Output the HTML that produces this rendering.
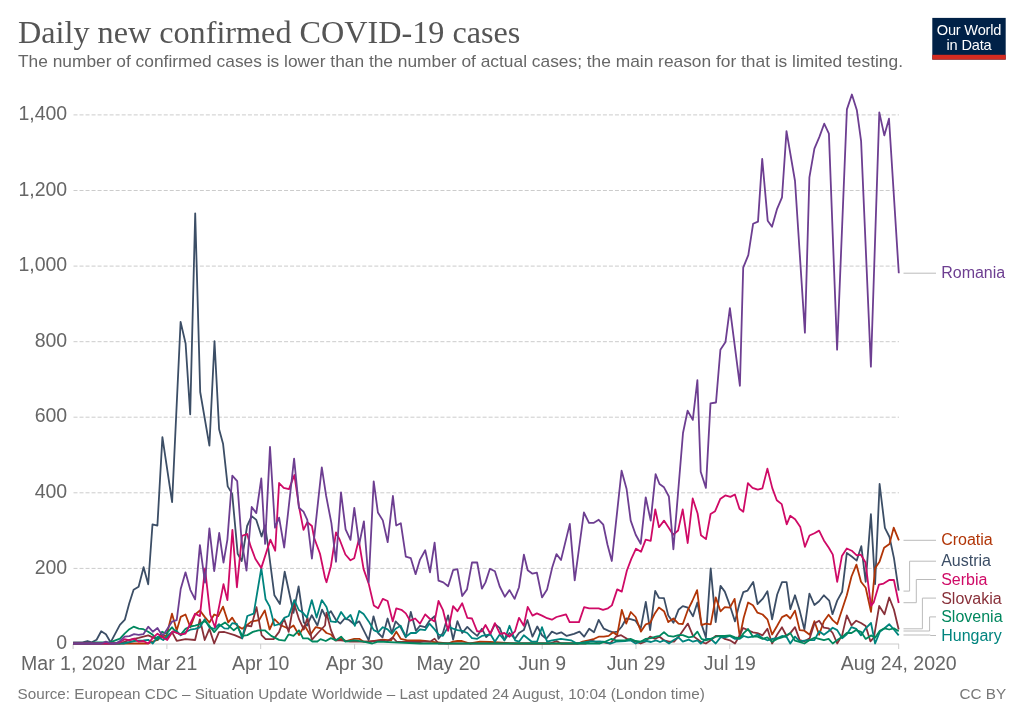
<!DOCTYPE html>
<html><head><meta charset="utf-8"><style>
html,body{margin:0;padding:0;background:#fff;}
body{width:1024px;height:722px;overflow:hidden;position:relative;font-family:"Liberation Sans",Arial,sans-serif;}
svg{position:absolute;left:0;top:0;will-change:transform;}
</style></head><body>
<svg width="1024" height="722" viewBox="0 0 1024 722">
<rect width="1024" height="722" fill="#fff"/>
<text x="18" y="42.9" font-family="Liberation Serif, serif" font-size="32.2" fill="#555">Daily new confirmed COVID-19 cases</text>
<text x="18" y="66.9" font-family="Liberation Sans, sans-serif" font-size="17.35" fill="#666">The number of confirmed cases is lower than the number of actual cases; the main reason for that is limited testing.</text>
<g>
<rect x="932.3" y="17.9" width="73.4" height="41.7" fill="#002147"/>
<rect x="932.3" y="54.8" width="73.4" height="4.8" fill="#D42B21"/>
<text x="969" y="34.5" text-anchor="middle" font-family="Liberation Sans, sans-serif" font-size="14.6" letter-spacing="-0.2" fill="#fff">Our World</text>
<text x="969" y="50.3" text-anchor="middle" font-family="Liberation Sans, sans-serif" font-size="14.6" letter-spacing="-0.2" fill="#fff">in Data</text>
</g>
<g stroke="#ccc" stroke-width="1" stroke-dasharray="4,2.016"><line x1="73.5" x2="899" y1="568.4" y2="568.4"/><line x1="73.5" x2="899" y1="492.8" y2="492.8"/><line x1="73.5" x2="899" y1="417.2" y2="417.2"/><line x1="73.5" x2="899" y1="341.7" y2="341.7"/><line x1="73.5" x2="899" y1="266.1" y2="266.1"/><line x1="73.5" x2="899" y1="190.5" y2="190.5"/><line x1="73.5" x2="899" y1="114.9" y2="114.9"/></g>
<g font-family="Liberation Sans, sans-serif" font-size="19.5" fill="#666" text-anchor="end"><text x="67.2" y="649.2">0</text><text x="67.2" y="573.6">200</text><text x="67.2" y="498.0">400</text><text x="67.2" y="422.4">600</text><text x="67.2" y="346.9">800</text><text x="67.2" y="271.3">1,000</text><text x="67.2" y="195.7">1,200</text><text x="67.2" y="120.1">1,400</text></g>
<line x1="73.5" x2="899" y1="644" y2="644" stroke="#ccc" stroke-width="1"/>
<g stroke="#ccc" stroke-width="1"><line x1="73.1" x2="73.1" y1="644" y2="649"/><line x1="166.9" x2="166.9" y1="644" y2="649"/><line x1="260.7" x2="260.7" y1="644" y2="649"/><line x1="354.6" x2="354.6" y1="644" y2="649"/><line x1="448.4" x2="448.4" y1="644" y2="649"/><line x1="542.2" x2="542.2" y1="644" y2="649"/><line x1="636.0" x2="636.0" y1="644" y2="649"/><line x1="729.8" x2="729.8" y1="644" y2="649"/><line x1="898.7" x2="898.7" y1="644" y2="649"/></g>
<g font-family="Liberation Sans, sans-serif" font-size="19.5" fill="#666" text-anchor="middle"><text x="73.1" y="669.8">Mar 1, 2020</text><text x="166.9" y="669.8">Mar 21</text><text x="260.7" y="669.8">Apr 10</text><text x="354.6" y="669.8">Apr 30</text><text x="448.4" y="669.8">May 20</text><text x="542.2" y="669.8">Jun 9</text><text x="636.0" y="669.8">Jun 29</text><text x="729.8" y="669.8">Jul 19</text><text x="898.7" y="669.8">Aug 24, 2020</text></g>
<g fill="none" stroke-width="1.8" stroke-linejoin="round" stroke-linecap="butt"><path d="M73.1,642.3 L82.5,642.3 L87.5,641.0 L91.8,642.3 L96.6,639.8 L101.2,631.3 L105.9,634.2 L110.6,642.3 L119.9,624.8 L124.9,619.6 L129.2,603.6 L133.6,589.7 L138.6,586.8 L143.6,567.2 L148.2,584.3 L152.5,524.3 L157.4,525.6 L162.4,437.1 L172.1,502.2 L180.6,321.9 L185.6,343.5 L190.2,414.3 L195.2,213.3 L200.2,392.0 L209.4,445.7 L214.5,341.2 L219.1,429.2 L223.1,444.1 L227.7,486.4 L232.2,493.9 L237.7,553.9 L241.7,561.0 L247.1,526.0 L251.7,516.1 L256.3,519.9 L261.6,536.5 L265.0,525.3 L268.0,545.9 L274.4,595.3 L279.9,604.0 L284.7,571.7 L293.5,612.8 L298.6,586.5 L303.8,622.4 L307.0,625.5 L311.8,615.2 L317.4,625.5 L322.1,609.6 L325.8,617.0 L330.9,611.2 L336.0,620.0 L340.3,623.6 L344.7,618.5 L349.1,620.0 L354.2,624.3 L359.2,621.4 L363.6,630.1 L368.7,640.3 L373.5,616.3 L378.1,633.0 L382.5,637.4 L387.6,618.5 L391.9,633.0 L395.6,621.4 L399.9,625.8 L405.8,637.4 L410.8,611.9 L415.9,630.8 L420.0,625.8 L425.2,627.2 L429.5,620.7 L434.6,616.3 L438.5,638.8 L442.9,633.0 L448.1,615.3 L453.1,639.6 L457.4,621.1 L462.2,633.0 L467.3,626.9 L472.0,631.6 L477.2,635.9 L481.9,628.7 L486.2,637.1 L490.6,633.0 L494.9,624.3 L499.7,627.9 L504.4,640.3 L509.5,633.0 L515.0,638.8 L519.0,633.0 L523.8,630.1 L527.4,620.0 L532.5,636.7 L537.3,626.5 L542.0,635.2 L546.3,638.8 L551.9,631.6 L556.5,633.8 L561.2,632.3 L566.7,635.9 L574.0,633.8 L579.5,631.6 L584.1,636.7 L589.2,628.7 L594.0,632.3 L598.7,619.9 L603.8,628.7 L608.7,630.8 L613.1,632.3 L617.4,631.6 L621.8,626.5 L626.2,618.5 L630.5,619.2 L635.6,620.7 L640.7,628.7 L645.8,601.8 L650.1,630.1 L655.2,590.9 L658.9,597.8 L664.0,598.1 L668.3,615.6 L673.4,622.8 L678.5,609.8 L682.8,606.1 L687.9,607.6 L693.0,616.3 L697.4,602.5 L701.5,624.4 L705.9,637.4 L710.7,568.4 L715.7,622.2 L720.5,585.8 L724.8,591.6 L729.9,605.4 L735.0,621.4 L739.4,604.0 L743.3,592.1 L747.6,590.6 L753.2,581.9 L757.5,604.0 L762.6,598.9 L767.4,591.2 L772.1,619.3 L777.2,594.5 L782.0,582.2 L786.6,582.2 L790.3,609.1 L795.0,595.3 L799.7,610.6 L804.4,629.5 L809.4,593.6 L814.4,605.0 L819.1,601.2 L823.9,595.3 L829.2,600.6 L832.5,614.2 L837.2,600.6 L842.1,591.8 L846.8,553.0 L851.7,556.5 L856.7,560.6 L861.3,546.2 L865.7,581.8 L870.9,514.2 L875.1,584.1 L879.6,484.0 L884.9,527.9 L889.5,537.0 L894.0,558.4 L898.7,590.6" stroke="#3C4E66"/><path d="M73.1,643.5 L148.2,643.5 L152.8,641.5 L157.5,640.0 L160.0,635.3 L166.4,636.0 L172.0,613.7 L176.7,630.5 L180.7,616.9 L185.5,614.5 L190.3,627.3 L195.1,614.5 L199.9,610.5 L204.7,616.9 L209.4,622.5 L214.2,614.5 L218.2,616.1 L223.0,606.6 L225.0,612.8 L228.2,622.4 L232.2,617.6 L236.9,625.5 L242.2,628.7 L246.5,625.5 L251.3,621.6 L259.2,620.0 L264.8,610.4 L269.6,629.5 L274.4,619.2 L279.9,624.7 L288.7,628.7 L293.5,625.5 L299.0,635.1 L304.6,625.5 L310.2,635.1 L315.8,627.1 L322.1,628.7 L326.5,633.0 L330.9,634.5 L336.0,640.3 L341.1,638.8 L346.2,641.0 L354.2,638.8 L359.2,638.8 L363.6,641.7 L369.4,641.7 L382.5,639.6 L391.2,640.3 L396.3,631.6 L400.7,638.8 L407.2,640.3 L413.0,640.3 L420.0,640.3 L425.0,641.0 L430.0,641.7 L448.0,643.5 L453.0,641.7 L457.4,641.0 L462.0,641.0 L470.0,643.5 L480.0,641.7 L490.0,642.0 L515.0,643.5 L578.0,643.5 L582.7,641.7 L588.5,640.3 L594.3,638.8 L598.7,636.7 L603.8,636.7 L608.7,635.9 L613.1,632.3 L617.2,635.2 L621.8,609.8 L626.2,623.6 L630.8,612.0 L635.6,617.0 L641.0,631.6 L645.8,624.3 L650.1,622.8 L654.5,614.1 L658.9,607.6 L664.0,611.2 L668.3,622.1 L673.4,618.5 L678.5,623.6 L682.8,624.0 L687.9,609.8 L692.3,601.0 L697.1,590.1 L701.5,625.1 L705.9,623.6 L710.7,624.4 L715.7,597.4 L720.5,611.3 L724.8,607.2 L729.9,607.6 L734.6,598.9 L739.8,636.7 L743.7,617.8 L748.1,602.5 L752.9,605.2 L757.5,612.7 L762.6,614.5 L767.4,619.3 L772.1,634.5 L777.2,625.8 L782.0,617.1 L786.6,614.9 L790.3,618.5 L795.0,610.6 L799.7,630.1 L804.4,630.7 L809.7,634.8 L814.4,621.2 L819.1,634.8 L823.9,621.2 L828.6,614.8 L832.7,620.1 L837.2,624.2 L842.1,609.5 L846.8,595.3 L851.5,576.5 L856.4,564.6 L861.0,581.8 L865.7,587.7 L871.0,611.8 L875.1,568.2 L879.6,561.4 L884.1,547.7 L889.5,543.9 L893.7,527.6 L898.9,540.4" stroke="#B13507"/><path d="M73.1,643.5 L119.9,643.5 L129.4,639.8 L138.7,637.9 L148.2,635.4 L152.8,637.3 L157.5,639.8 L162.1,636.7 L166.4,638.5 L172.0,632.1 L176.7,640.8 L185.5,639.2 L195.1,640.0 L199.9,619.3 L204.7,640.0 L209.4,628.9 L214.2,643.5 L219.0,632.1 L224.4,632.0 L234.6,635.1 L242.2,638.3 L246.5,625.5 L251.3,626.3 L256.5,607.2 L261.6,635.1 L265.6,639.1 L273.6,639.1 L279.1,631.9 L283.9,618.4 L288.7,631.9 L293.8,602.5 L299.0,619.2 L303.8,629.5 L307.5,617.6 L311.8,639.9 L317.4,633.5 L325.0,625.5 L326.5,612.7 L330.9,630.1 L335.3,640.3 L341.1,640.3 L350.0,641.5 L360.0,641.7 L370.0,641.5 L382.5,640.3 L387.0,641.5 L392.7,637.4 L397.0,642.0 L420.0,642.0 L425.0,641.3 L430.0,641.7 L434.6,638.8 L438.5,643.5 L515.0,643.5 L550.0,643.5 L556.5,641.0 L561.0,643.5 L586.0,643.5 L591.4,640.3 L596.0,642.0 L600.0,641.7 L610.0,643.5 L616.0,636.7 L621.1,635.2 L626.9,638.8 L635.6,641.7 L640.7,643.5 L645.1,641.7 L650.1,636.7 L655.2,638.8 L659.6,636.7 L664.0,640.3 L669.0,641.7 L674.1,641.7 L679.2,635.9 L687.9,623.6 L693.0,635.9 L700.8,641.8 L705.9,643.5 L710.7,640.3 L715.7,636.0 L720.5,636.0 L724.8,638.9 L729.9,640.3 L735.0,643.5 L739.8,635.3 L743.0,628.0 L748.1,630.2 L752.9,632.4 L757.5,633.1 L762.6,635.3 L767.4,628.7 L772.1,643.5 L777.2,634.5 L782.0,627.3 L786.6,636.0 L790.3,633.1 L795.0,627.1 L799.7,640.1 L804.4,641.3 L809.7,638.3 L814.4,623.6 L819.1,620.7 L823.9,627.7 L828.6,628.3 L832.7,633.0 L837.2,643.5 L842.1,635.4 L846.8,615.4 L851.5,625.4 L856.2,620.7 L861.0,623.0 L865.7,626.0 L870.4,641.3 L873.9,637.7 L879.2,605.9 L884.5,614.2 L889.2,597.5 L893.9,609.5 L898.7,629.5" stroke="#883039"/><path d="M73.1,643.5 L123.6,643.5 L134.1,641.0 L143.4,640.4 L148.2,639.8 L152.8,643.5 L157.5,636.7 L163.2,640.0 L169.6,633.7 L176.0,630.5 L180.7,635.3 L185.5,632.1 L190.3,629.7 L195.1,628.9 L199.9,627.3 L204.7,619.3 L209.4,627.3 L214.2,628.9 L219.0,624.1 L224.4,628.4 L228.2,628.7 L232.2,623.2 L236.9,624.0 L242.2,638.3 L247.3,616.0 L253.7,613.6 L261.3,568.2 L265.6,599.3 L269.6,606.4 L274.4,625.5 L279.9,624.0 L284.7,617.6 L288.7,616.0 L294.3,600.1 L298.8,610.0 L303.0,612.8 L307.0,617.6 L311.8,600.1 L316.6,617.6 L321.8,600.1 L326.5,606.9 L330.9,621.4 L336.0,622.1 L341.1,612.0 L346.2,619.2 L350.5,614.9 L354.9,625.8 L359.2,610.9 L363.6,614.1 L368.7,621.4 L373.8,630.1 L378.1,632.3 L382.8,627.2 L387.6,629.4 L391.9,633.8 L395.6,628.7 L400.7,625.8 L405.8,636.7 L410.8,633.0 L415.9,633.0 L420.0,629.4 L425.2,630.1 L429.5,623.6 L434.6,629.4 L438.5,634.5 L442.9,635.9 L448.1,626.9 L453.1,628.7 L457.4,630.1 L462.2,630.8 L467.3,633.0 L472.0,638.1 L477.2,638.8 L481.9,635.9 L486.2,635.2 L490.6,634.5 L494.9,641.7 L499.7,634.5 L504.4,640.3 L509.5,625.8 L515.0,640.3 L519.0,641.7 L523.8,635.2 L531.8,641.7 L537.0,641.7 L542.0,627.2 L547.1,641.7 L552.2,640.3 L560.9,638.8 L571.0,640.3 L576.9,643.5 L590.0,641.5 L603.0,641.7 L611.0,643.5 L616.0,641.7 L625.0,641.0 L630.5,640.3 L635.6,643.5 L641.0,641.5 L646.5,641.0 L651.0,642.0 L656.0,640.3 L660.0,642.0 L664.0,640.3 L669.0,643.5 L673.4,640.3 L678.5,637.4 L682.8,641.7 L688.7,639.6 L693.0,641.7 L697.4,640.3 L700.8,643.5 L705.9,638.9 L710.7,638.9 L715.7,643.5 L720.5,637.4 L725.0,637.4 L729.9,636.0 L735.0,638.9 L739.8,638.9 L743.7,636.0 L748.1,637.4 L752.9,636.7 L757.5,634.5 L762.6,638.2 L767.4,640.3 L772.0,639.0 L777.0,638.2 L782.0,636.0 L786.6,637.0 L790.3,643.5 L795.0,636.6 L799.7,641.3 L804.4,640.7 L809.7,640.1 L814.4,640.1 L819.1,631.3 L823.9,634.8 L828.6,631.3 L832.7,627.7 L837.2,630.1 L842.1,638.3 L846.8,634.2 L851.5,627.1 L856.2,628.9 L861.0,635.4 L865.7,628.3 L871.0,623.0 L875.1,643.5 L879.8,631.8 L884.5,628.3 L889.2,624.2 L893.9,629.5 L898.7,635.4" stroke="#00847E"/><path d="M73.1,643.5 L91.0,643.5 L93.5,642.4 L110.6,642.4 L115.3,640.4 L120.0,638.6 L124.6,633.6 L129.4,629.2 L133.6,626.7 L138.7,628.6 L143.4,629.2 L148.2,631.7 L152.8,634.8 L157.5,639.8 L162.1,631.7 L166.4,633.7 L172.0,627.3 L176.0,632.1 L180.7,634.5 L185.5,628.9 L190.3,626.5 L195.1,625.7 L199.9,624.1 L204.7,620.9 L209.4,625.7 L214.2,632.1 L219.0,626.5 L225.0,622.4 L233.8,630.3 L237.7,627.1 L242.5,635.9 L247.3,635.1 L252.9,631.9 L258.4,630.3 L264.8,630.3 L271.2,635.9 L279.1,639.9 L284.7,640.7 L288.7,634.3 L293.5,635.9 L299.0,630.3 L303.0,638.3 L307.8,638.3 L312.3,641.5 L317.4,641.5 L320.5,639.1 L325.8,641.0 L330.9,638.1 L336.0,640.3 L341.1,636.7 L345.4,641.7 L354.2,640.3 L363.6,641.7 L372.3,643.5 L378.1,641.7 L420.0,643.5 L515.0,643.5 L580.0,643.5 L600.0,643.5 L605.0,641.7 L611.6,638.8 L616.0,640.3 L625.0,640.3 L630.5,638.8 L635.6,641.0 L640.7,641.7 L645.8,638.8 L650.9,638.1 L656.0,636.7 L659.6,635.9 L664.0,632.3 L668.3,635.9 L673.4,636.7 L678.5,635.2 L682.8,635.2 L688.7,637.4 L693.0,636.7 L697.4,631.6 L701.5,638.9 L705.9,640.3 L710.7,638.9 L715.7,636.7 L720.5,636.0 L724.8,636.0 L729.9,635.3 L735.0,637.4 L739.8,638.2 L743.7,633.1 L748.1,629.0 L752.9,636.7 L757.5,636.7 L762.6,638.9 L767.4,637.4 L772.1,641.8 L777.2,638.9 L782.0,637.4 L786.6,635.3 L790.3,633.1 L795.0,640.7 L804.4,643.5 L809.7,640.1 L814.4,637.7 L819.1,638.9 L823.9,640.1 L828.6,638.9 L832.7,643.5 L837.2,640.1 L842.1,637.1 L846.8,633.0 L851.5,633.0 L856.2,630.1 L861.0,631.8 L865.7,638.9 L871.0,635.4 L875.1,637.7 L879.8,630.7 L884.5,628.3 L889.2,629.5 L893.9,628.3 L898.7,631.3" stroke="#00875E"/><path d="M73.1,643.5 L115.3,643.5 L120.0,642.3 L124.6,639.2 L129.4,640.4 L134.1,638.6 L138.7,641.7 L143.4,641.0 L148.2,643.5 L152.8,637.9 L157.5,633.6 L162.1,637.3 L167.2,640.0 L172.8,631.3 L180.7,634.5 L185.5,633.7 L195.1,613.7 L199.9,616.1 L205.0,568.3 L210.2,614.5 L215.0,627.3 L223.5,584.2 L225.0,590.5 L227.4,600.1 L232.4,529.8 L236.9,587.3 L242.0,535.8 L247.2,534.0 L250.5,545.9 L255.3,558.7 L261.3,567.9 L270.4,539.6 L275.2,550.7 L279.1,483.0 L283.7,487.9 L289.0,489.1 L294.4,475.0 L298.9,506.2 L303.5,529.8 L307.3,522.2 L311.9,526.0 L314.2,538.0 L320.0,553.8 L325.0,577.8 L326.5,582.2 L330.9,566.2 L336.0,532.3 L339.8,540.0 L345.4,554.5 L350.5,560.3 L354.2,558.2 L358.7,540.0 L363.6,569.1 L368.7,583.6 L373.8,605.4 L378.1,608.3 L382.8,598.9 L387.6,601.0 L392.7,621.4 L396.3,608.3 L401.4,609.8 L405.8,613.4 L410.1,620.7 L415.2,618.5 L420.0,623.6 L425.2,614.4 L429.5,618.5 L434.6,621.4 L438.5,601.0 L442.9,609.8 L448.1,630.8 L453.1,606.1 L457.4,611.2 L462.2,603.2 L467.3,617.8 L472.0,618.5 L477.2,631.3 L481.9,631.3 L485.5,625.0 L490.3,633.8 L494.9,623.1 L500.0,633.8 L504.4,633.0 L509.5,636.7 L515.0,631.3 L519.0,617.8 L523.8,625.8 L527.7,606.9 L532.5,615.6 L536.9,613.4 L542.0,615.6 L547.1,618.2 L551.9,619.7 L556.5,617.0 L561.6,615.6 L566.0,614.4 L569.6,622.1 L579.0,622.1 L584.1,607.2 L589.2,608.3 L598.7,608.3 L603.0,609.8 L608.0,608.3 L611.9,605.4 L617.2,589.4 L621.8,591.6 L626.9,570.5 L631.3,558.9 L636.0,548.7 L641.0,551.8 L645.7,539.7 L650.7,540.8 L655.3,509.4 L659.0,527.2 L664.0,520.6 L668.4,527.2 L673.1,534.7 L678.1,530.5 L682.7,509.4 L687.7,543.0 L692.7,498.5 L697.6,513.5 L701.0,535.3 L706.0,539.1 L710.6,514.0 L715.1,511.2 L720.2,499.1 L725.3,495.4 L730.4,496.9 L734.9,494.5 L739.5,508.7 L743.3,511.7 L747.9,483.2 L752.5,487.8 L757.8,489.6 L762.4,488.4 L767.4,468.6 L772.3,488.1 L776.8,500.3 L781.7,504.1 L786.7,524.3 L790.2,515.8 L795.1,519.3 L800.3,527.1 L804.9,546.9 L809.5,535.5 L814.5,533.2 L819.1,530.6 L823.9,540.4 L828.8,547.7 L832.8,554.6 L837.2,581.8 L841.9,556.1 L846.8,548.5 L851.7,550.7 L856.7,555.3 L860.8,554.6 L865.4,562.2 L871.0,605.9 L873.7,602.4 L878.9,584.7 L883.6,583.6 L889.2,580.0 L893.9,580.0 L898.7,603.0" stroke="#CF0A66"/><path d="M73.1,643.5 L101.2,643.5 L105.9,641.7 L110.6,643.5 L115.3,643.5 L120.0,641.0 L124.6,636.7 L129.4,636.1 L134.1,634.2 L138.7,634.8 L143.4,634.2 L148.2,626.7 L152.8,631.7 L157.5,628.0 L160.0,632.1 L163.2,635.3 L172.0,621.7 L176.7,620.1 L180.7,589.0 L185.5,572.3 L190.3,589.8 L195.1,599.4 L199.9,545.2 L205.0,582.6 L209.4,528.3 L214.2,571.1 L219.2,533.0 L223.5,562.7 L227.4,539.6 L232.3,475.7 L237.2,481.1 L241.5,539.8 L246.5,570.6 L251.7,507.0 L256.3,513.1 L261.3,478.5 L265.1,543.9 L270.0,446.8 L275.0,527.6 L279.1,517.7 L284.2,547.5 L294.1,458.7 L298.9,507.7 L303.5,511.6 L307.3,519.9 L311.9,558.6 L321.8,467.3 L326.1,495.7 L331.4,523.2 L336.0,561.8 L341.0,492.4 L345.6,529.3 L350.5,539.9 L354.3,507.9 L359.2,544.4 L363.9,521.3 L368.7,582.2 L373.7,481.3 L377.9,512.5 L382.8,520.4 L387.7,542.2 L392.9,496.0 L396.2,525.5 L400.8,523.2 L405.8,556.7 L410.8,558.2 L415.6,574.2 L420.0,559.6 L425.2,550.2 L430.0,572.3 L434.6,542.6 L438.5,580.7 L443.3,582.4 L448.1,586.2 L453.1,570.2 L457.4,569.1 L462.2,596.0 L467.0,589.4 L472.0,562.5 L477.2,562.5 L481.9,588.7 L485.5,582.4 L489.9,568.8 L494.9,571.3 L499.7,586.5 L504.8,596.7 L509.5,590.1 L514.6,598.9 L519.0,587.2 L523.9,554.7 L527.7,570.2 L532.5,573.7 L536.9,572.7 L542.0,597.4 L547.1,589.4 L552.2,567.6 L556.5,554.1 L561.0,560.0 L569.8,523.9 L574.7,580.4 L583.9,512.5 L589.0,522.9 L593.5,522.9 L598.7,519.8 L603.3,524.7 L607.5,544.7 L611.8,561.0 L621.6,470.7 L626.6,489.0 L630.7,520.6 L635.7,534.7 L640.7,543.8 L645.7,497.3 L650.7,520.6 L655.6,474.1 L659.5,484.0 L664.0,487.3 L668.9,496.5 L673.4,549.3 L683.0,433.0 L687.6,410.7 L692.8,419.9 L697.4,380.2 L700.7,471.7 L705.9,487.9 L710.5,403.4 L716.0,402.5 L720.4,349.7 L725.5,341.9 L729.9,308.2 L739.9,385.8 L743.2,267.7 L748.3,255.1 L753.1,223.8 L758.0,221.6 L762.2,158.9 L767.7,220.7 L772.0,226.8 L776.9,209.4 L782.0,197.3 L786.5,131.1 L795.0,181.0 L804.9,332.7 L809.4,177.3 L814.4,148.6 L819.4,136.9 L824.2,123.7 L828.9,133.6 L837.1,349.7 L846.9,109.4 L851.9,94.5 L856.8,109.9 L861.1,141.1 L870.9,366.7 L879.3,112.4 L884.3,135.4 L889.0,118.7 L898.8,273.3" stroke="#6D3E91"/></g>
<g fill="none" stroke="#bbb" stroke-width="1"><path d="M903.5,273.2 H936"/><path d="M903.5,540.3 H936"/><path d="M903.5,591.1 H909.6 V561.2 H936"/><path d="M903.5,602.7 H916.3 V579.5 H936"/><path d="M903.5,628.8 H922.4 V598.1 H936"/><path d="M903.5,631.0 H929.6 V616.9 H936"/><path d="M903.5,635.0 H929.6 L931,635.5 H936"/></g>
<g font-family="Liberation Sans, sans-serif" font-size="16"><text x="941.2" y="278.3" fill="#6D3E91">Romania</text><text x="941.2" y="545.0" fill="#B13507">Croatia</text><text x="941.2" y="565.5" fill="#3C4E66">Austria</text><text x="941.2" y="584.6" fill="#CF0A66">Serbia</text><text x="941.2" y="603.5" fill="#883039">Slovakia</text><text x="941.2" y="622.0" fill="#00875E">Slovenia</text><text x="941.2" y="640.5" fill="#00847E">Hungary</text></g>
<text x="17.5" y="699.3" font-family="Liberation Sans, sans-serif" font-size="15.25" fill="#777">Source: European CDC – Situation Update Worldwide – Last updated 24 August, 10:04 (London time)</text>
<text x="1006.2" y="699.3" text-anchor="end" font-family="Liberation Sans, sans-serif" font-size="15.25" fill="#777">CC BY</text>
</svg>
</body></html>
